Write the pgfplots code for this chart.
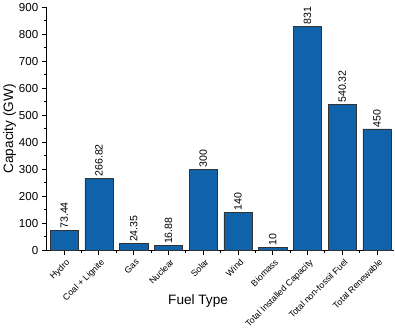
\documentclass[border=0pt]{standalone}
\usepackage{pgfplots}
\pgfplotsset{compat=1.18}
\usepackage{fontspec}
\setmainfont{Liberation Sans}
\definecolor{barblue}{RGB}{16,99,170}
\begin{document}
\begin{tikzpicture}
\begin{axis}[
  scale only axis,
  width=345pt, height=241pt,
  xmin=-0.5, xmax=9.5,
  ymin=0, ymax=900,
  axis x line*=bottom, axis y line*=left,
  axis line style={line width=1.1pt},
  ytick={0,100,...,900},
  minor y tick num=1,
  xtick={0,...,9},
  minor xtick={0.5,1.5,...,8.5},
  xticklabels={Hydro,Coal + Lignite,Gas,Nuclear,Solar,Wind,Biomass,Total Installed Capacity,Total non-fossil Fuel,Total Renewable},
  x tick label style={rotate=45, anchor=north east, font=\fontsize{8.8}{10}\selectfont, inner sep=1pt, yshift=-2pt},
  y tick label style={font=\fontsize{11.5}{12}\selectfont},
  tick align=outside,
  major tick length=5pt, minor tick length=3pt,
  tick style={line width=1pt, black},
  /pgf/number format/assume math mode=true,
  ylabel={Capacity (GW)}, xlabel={Fuel Type},
  label style={font=\fontsize{13.5}{14}\selectfont},
  ylabel style={yshift=-4pt},
  xlabel style={at={(axis description cs:0.435,0)}, anchor=center, yshift=-50pt},
  point meta=explicit symbolic,
  nodes near coords,
  nodes near coords style={rotate=90, anchor=west, font=\fontsize{10.5}{11}\selectfont, inner sep=1.5pt},
  clip=false,
]
\addplot[ybar, bar width=28pt, fill=barblue, draw=black!80, line width=0.5pt] coordinates {
 (0,73.44) [73.44]
 (1,266.82) [266.82]
 (2,24.35) [24.35]
 (3,16.88) [16.88]
 (4,300) [300]
 (5,140) [140]
 (6,10) [10]
 (7,831) [831]
 (8,540.32) [540.32]
 (9,450) [450]
};
\path (axis description cs:0,0) ++(0,-83pt) coordinate (bb);
\useasboundingbox (current bounding box.north west) rectangle (bb -| current bounding box.east);
\end{axis}
\end{tikzpicture}
\end{document}
